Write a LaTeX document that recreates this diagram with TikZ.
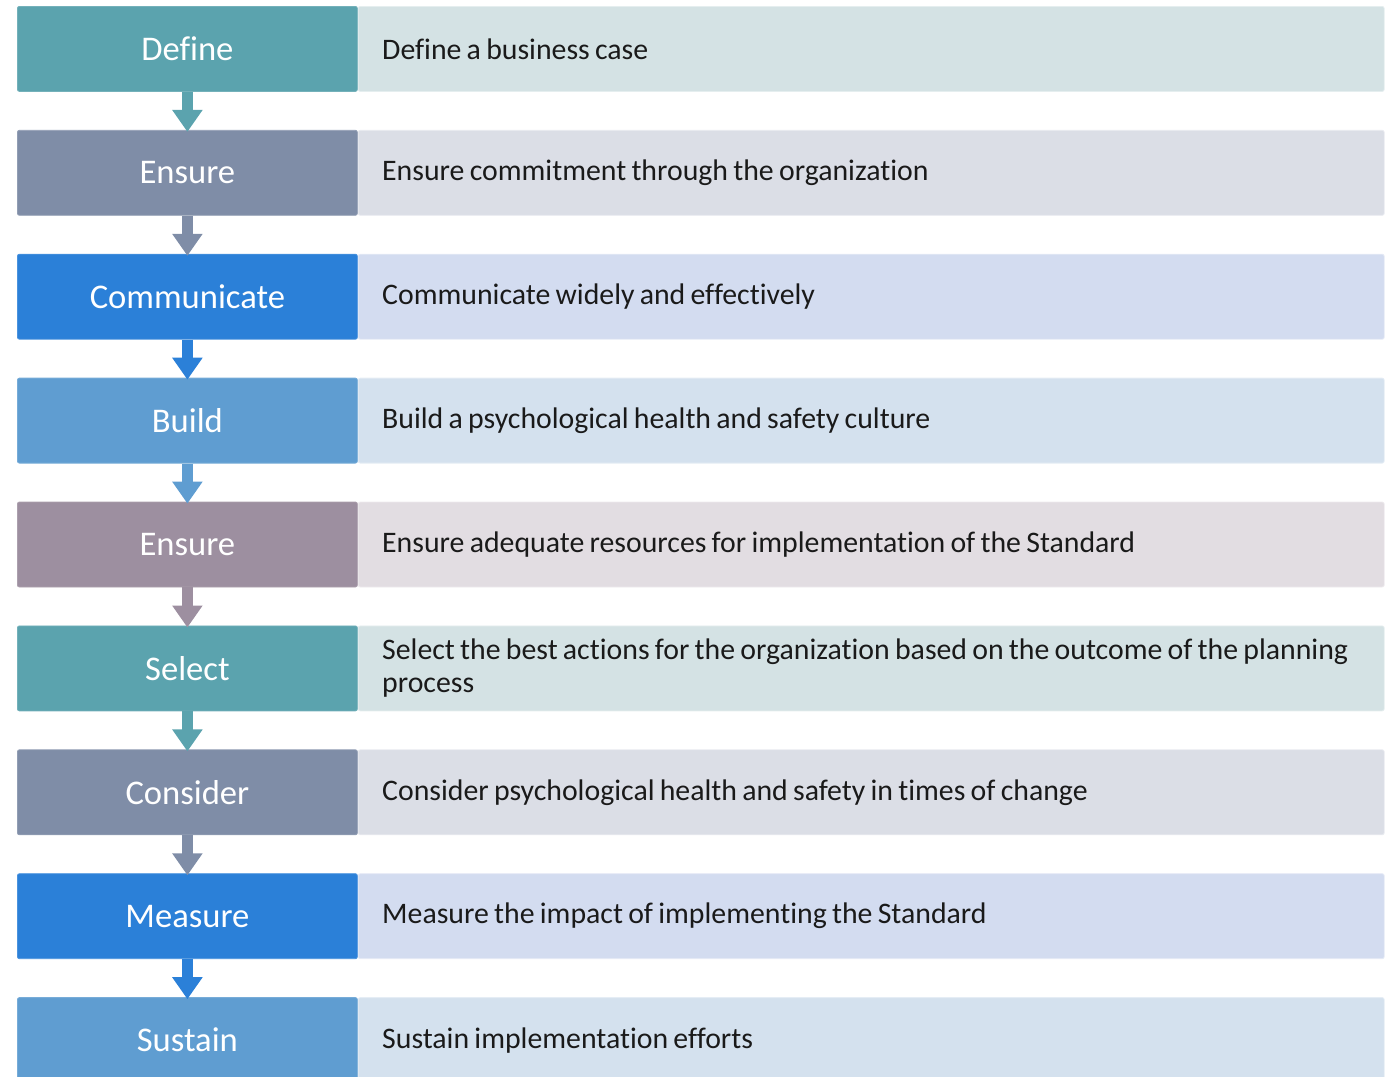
\documentclass[tikz,border=0pt]{standalone}
\usepackage{fontspec}
\setmainfont[WordSpace=0.78, Ligatures=NoCommon]{Carlito}
\usetikzlibrary{positioning, arrows.meta}

% box colours (step / description)
\definecolor{tealS}{HTML}{5BA3AE}
\definecolor{tealD}{HTML}{D4E2E4}
\definecolor{slateS}{HTML}{7F8DA7}
\definecolor{slateD}{HTML}{DBDEE6}
\definecolor{blueS}{HTML}{2B80D8}
\definecolor{blueD}{HTML}{D3DCF0}
\definecolor{skyS}{HTML}{5F9DD1}
\definecolor{skyD}{HTML}{D4E1EE}
\definecolor{mauveS}{HTML}{9D8FA0}
\definecolor{mauveD}{HTML}{E2DDE2}
\definecolor{txt}{HTML}{1A1A1A}

\tikzset{
  stepbox/.style={rectangle, rounded corners=1pt, minimum width=170pt, minimum height=42.5pt, inner sep=0pt,
    text=white, font=\fontsize{17.3}{20}\selectfont, fill=#1S, draw=#1S!85!white, line width=0.4pt},
  descbox/.style={rectangle, rounded corners=1pt, minimum width=513pt, minimum height=42.5pt,
    inner xsep=12pt, inner ysep=0pt, text width=489pt, align=flush left,
    text=txt, font=\fontsize{14.9}{16.5}\selectfont, fill=#1D, draw=#1D!60!white, line width=0.4pt},
  flow/.style={line width=5.5pt, -{Triangle[width=14.5pt, length=11pt]}, shorten >=-1pt, draw=#1S}
}

\begin{document}
\begin{tikzpicture}[node distance=19.05pt]
  \clip (0,0) rectangle (694.5pt,-538.5pt);
  \useasboundingbox (0,0) rectangle (694.5pt,-538.5pt);

  %----------------------------------------------------%
  \node(define) [stepbox=teal, anchor=north west] at (8.5pt,-3pt) {Define};
  \node(ensureA) [stepbox=slate, below=of define] {Ensure};
  \node(communicate) [stepbox=blue, below=of ensureA] {Communicate};
  \node(build) [stepbox=sky, below=of communicate] {Build};
  \node(ensureB) [stepbox=mauve, below=of build] {Ensure};
  \node(select) [stepbox=teal, below=of ensureB] {Select};
  \node(consider) [stepbox=slate, below=of select] {Consider};
  \node(measure) [stepbox=blue, below=of consider] {Measure};
  \node(sustain) [stepbox=sky, below=of measure] {Sustain};

  %----------------------------------------------------%
  \node(defineTxt) [descbox=teal, right=0pt of define] {Define a business case};
  \node(ensureATxt) [descbox=slate, right=0pt of ensureA] {Ensure commitment through the organization};
  \node(communicateTxt) [descbox=blue, right=0pt of communicate] {Communicate widely and effectively};
  \node(buildTxt) [descbox=sky, right=0pt of build] {Build a psychological health and safety culture};
  \node(ensureBTxt) [descbox=mauve, right=0pt of ensureB] {Ensure adequate resources for implementation of the Standard};
  \node(selectTxt) [descbox=teal, right=0pt of select] {Select the best actions for the organization based on the outcome of the planning\\process};
  \node(considerTxt) [descbox=slate, right=0pt of consider] {Consider psychological health and safety in times of change};
  \node(measureTxt) [descbox=blue, right=0pt of measure] {Measure the impact of implementing the Standard};
  \node(sustainTxt) [descbox=sky, right=0pt of sustain] {Sustain implementation efforts};

  %----------------------------------------------------%
  \draw[flow=teal] (define) -- (ensureA);
  \draw[flow=slate] (ensureA) -- (communicate);
  \draw[flow=blue] (communicate) -- (build);
  \draw[flow=sky] (build) -- (ensureB);
  \draw[flow=mauve] (ensureB) -- (select);
  \draw[flow=teal] (select) -- (consider);
  \draw[flow=slate] (consider) -- (measure);
  \draw[flow=blue] (measure) -- (sustain);
\end{tikzpicture}
\end{document}
